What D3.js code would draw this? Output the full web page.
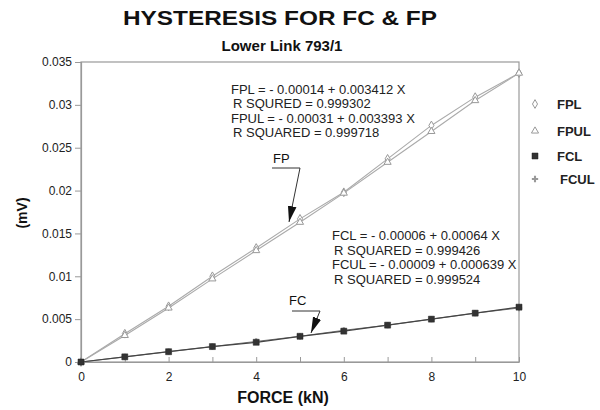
<!DOCTYPE html>
<html>
<head>
<meta charset="utf-8">
<script src="https://cdn.jsdelivr.net/npm/d3@7"></script>
<style>
  body { margin: 0; background: #fff; }
  svg { font-family: "Liberation Sans", Arial, sans-serif; }
</style>
</head>
<body>
<script>
// readings
var force = [0, 1, 2, 3, 4, 5, 6, 7, 8, 9, 10];
var fpl  = [0, 0.0033, 0.0065, 0.0100, 0.0133, 0.0167, 0.0198, 0.0237, 0.0276, 0.0309, 0.0337];
var fpul = [0, 0.0031, 0.0063, 0.0097, 0.0130, 0.0163, 0.0197, 0.0233, 0.0269, 0.0305, 0.0337];
var fcl  = [0, 0.0006, 0.0012, 0.0018, 0.0023, 0.0030, 0.0036, 0.0043, 0.0050, 0.0057, 0.0064];
var fcul = [0, 0.0006, 0.0012, 0.0018, 0.0024, 0.0030, 0.0037, 0.0043, 0.0050, 0.0057, 0.0063];
var yTicks = [0, 0.005, 0.01, 0.015, 0.02, 0.025, 0.03, 0.035];
var xTicks = [0, 1, 2, 3, 4, 5, 6, 7, 8, 9, 10];
var seriesNames = ["FPL", "FPUL", "FCL", "FCUL"];
var fpNotes = ["FPL = - 0.00014 + 0.003412 X", "R SQURED = 0.999302",
               "FPUL = - 0.00031 + 0.003393 X", "R SQUARED = 0.999718"];
var fcNotes = ["FCL = - 0.00006 + 0.00064 X", "R SQUARED = 0.999426",
               "FCUL = - 0.00009 + 0.000639 X", "R SQUARED = 0.999524"];

var w = 600, h = 410;
var plotL = 81, plotR = 519, plotT = 62, plotB = 362; // window.top is read-only, hence the names

var svg = d3.select("body").append("svg").attr("width", w).attr("height", h);

var x = d3.scaleLinear().domain([0, 10]).range([plotL, plotR]);
var y = d3.scaleLinear().domain([0, 0.035]).range([plotB, plotT]);

// titles
svg.append("text").attr("x", 280).attr("y", 25).attr("text-anchor", "middle")
  .attr("font-size", 21).attr("font-weight", "bold").attr("fill", "#111")
  .attr("textLength", 314).attr("lengthAdjust", "spacingAndGlyphs")
  .text("HYSTERESIS FOR FC & FP");
svg.append("text").attr("x", 282).attr("y", 51).attr("text-anchor", "middle")
  .attr("font-size", 15).attr("font-weight", "bold").attr("fill", "#111")
  .text("Lower Link 793/1");

// frame
svg.append("rect").attr("x", plotL).attr("y", plotT)
  .attr("width", plotR - plotL).attr("height", plotB - plotT)
  .attr("fill", "none").attr("stroke", "#999").attr("stroke-width", 1.2);

// axes
var yAxis = d3.axisLeft(y).tickValues(yTicks).tickSize(6).tickPadding(3)
  .tickFormat(function (d) { return d === 0 ? "0" : String(+d.toFixed(3)); });
var gy = svg.append("g").attr("transform", "translate(" + plotL + ",0)").call(yAxis);

var xAxis = d3.axisBottom(x).tickValues(xTicks).tickSizeInner(-5).tickSizeOuter(0).tickPadding(10)
  .tickFormat(function (d) { return d % 2 === 0 ? d : ""; });
var gx = svg.append("g").attr("transform", "translate(0," + plotB + ")").call(xAxis);

[gx, gy].forEach(function (g) {
  g.select(".domain").attr("stroke", "#999").attr("stroke-width", 1.2);
  g.selectAll(".tick line").attr("stroke", "#999");
  g.selectAll(".tick text").attr("font-size", 12).attr("fill", "#222")
    .attr("font-family", "Liberation Sans, Arial, sans-serif");
});

svg.append("text").attr("x", 283).attr("y", 403).attr("text-anchor", "middle")
  .attr("font-size", 16).attr("font-weight", "bold").attr("fill", "#111")
  .text("FORCE (kN)");
svg.append("text").attr("transform", "translate(27,213) rotate(-90)")
  .attr("text-anchor", "middle").attr("font-size", 14).attr("font-weight", "bold")
  .attr("fill", "#111").text("(mV)");

// lines
var line = d3.line().x(function (d) { return x(d[0]); }).y(function (d) { return y(d[1]); });
function pairs(vals) { return force.map(function (f, i) { return [f, vals[i]]; }); }

var series = [
  {name: "FPL", vals: fpl, color: "#aaa", width: 1.1},
  {name: "FPUL", vals: fpul, color: "#aaa", width: 1.1},
  {name: "FCUL", vals: fcul, color: "#777", width: 1},
  {name: "FCL", vals: fcl, color: "#444", width: 1.2}
];
series.forEach(function (s) {
  svg.append("path").datum(pairs(s.vals)).attr("d", line)
    .attr("fill", "none").attr("stroke", s.color).attr("stroke-width", s.width);
});

// markers
var sym = {
  FPL: d3.symbol().type(d3.symbolDiamond).size(22),
  FPUL: d3.symbol().type(d3.symbolTriangle).size(22),
  FCL: d3.symbol().type(d3.symbolSquare).size(36),
  FCUL: d3.symbol().type(d3.symbolCross).size(22)
};
function markerStyle(sel, name) {
  if (name === "FCL") sel.attr("fill", "#333").attr("stroke", "#222").attr("stroke-width", 0.5);
  else if (name === "FCUL") sel.attr("fill", "#999").attr("stroke", "none");
  else sel.attr("fill", "#fff").attr("stroke", "#999").attr("stroke-width", 1);
}
[{n: "FPL", v: fpl}, {n: "FPUL", v: fpul}, {n: "FCUL", v: fcul}, {n: "FCL", v: fcl}].forEach(function (s) {
  svg.append("g").selectAll("path").data(pairs(s.v)).enter().append("path")
    .attr("d", sym[s.n]())
    .attr("transform", function (d) { return "translate(" + x(d[0]) + "," + y(d[1]) + ")"; })
    .call(markerStyle, s.n);
});

// legend
var legendY = [104, 131, 156, 179];
seriesNames.forEach(function (n, i) {
  svg.append("path").attr("d", sym[n]())
    .attr("transform", "translate(535," + legendY[i] + ")").call(markerStyle, n);
  svg.append("text").attr("x", n === "FCUL" ? 560 : 557).attr("y", legendY[i] + 5)
    .attr("font-size", 13).attr("font-weight", "bold").attr("fill", "#222").text(n);
});

// equation notes
fpNotes.forEach(function (t, i) {
  svg.append("text").attr("x", i % 2 ? 233 : 231).attr("y", 94 + i * 14.3)
    .attr("font-size", 13).attr("fill", "#222").text(t);
});
fcNotes.forEach(function (t, i) {
  svg.append("text").attr("x", i % 2 ? 334 : 332).attr("y", 240 + i * 14.7)
    .attr("font-size", 13).attr("fill", "#222").text(t);
});

// callouts
svg.append("defs").append("marker").attr("id", "arr").attr("viewBox", "0 0 10 10")
  .attr("refX", 10).attr("refY", 5)
  .attr("markerUnits", "userSpaceOnUse").attr("orient", "auto")
  .attr("markerWidth", 16).attr("markerHeight", 16)
  .append("path").attr("d", "M0,2.3 L10,5 L0,7.7 Z").attr("fill", "#111");

function callout(label, tx, ty, pts) {
  svg.append("text").attr("x", tx).attr("y", ty).attr("font-size", 13)
    .attr("fill", "#111").text(label);
  svg.append("path").attr("d", d3.line()(pts)).attr("fill", "none")
    .attr("stroke", "#333").attr("stroke-width", 1).attr("marker-end", "url(#arr)");
}
callout("FP", 273, 163, [[272, 168], [300, 168], [289, 222]]);
callout("FC", 289, 305, [[292, 311], [320, 311], [311, 333]]);
</script>
</body>
</html>
